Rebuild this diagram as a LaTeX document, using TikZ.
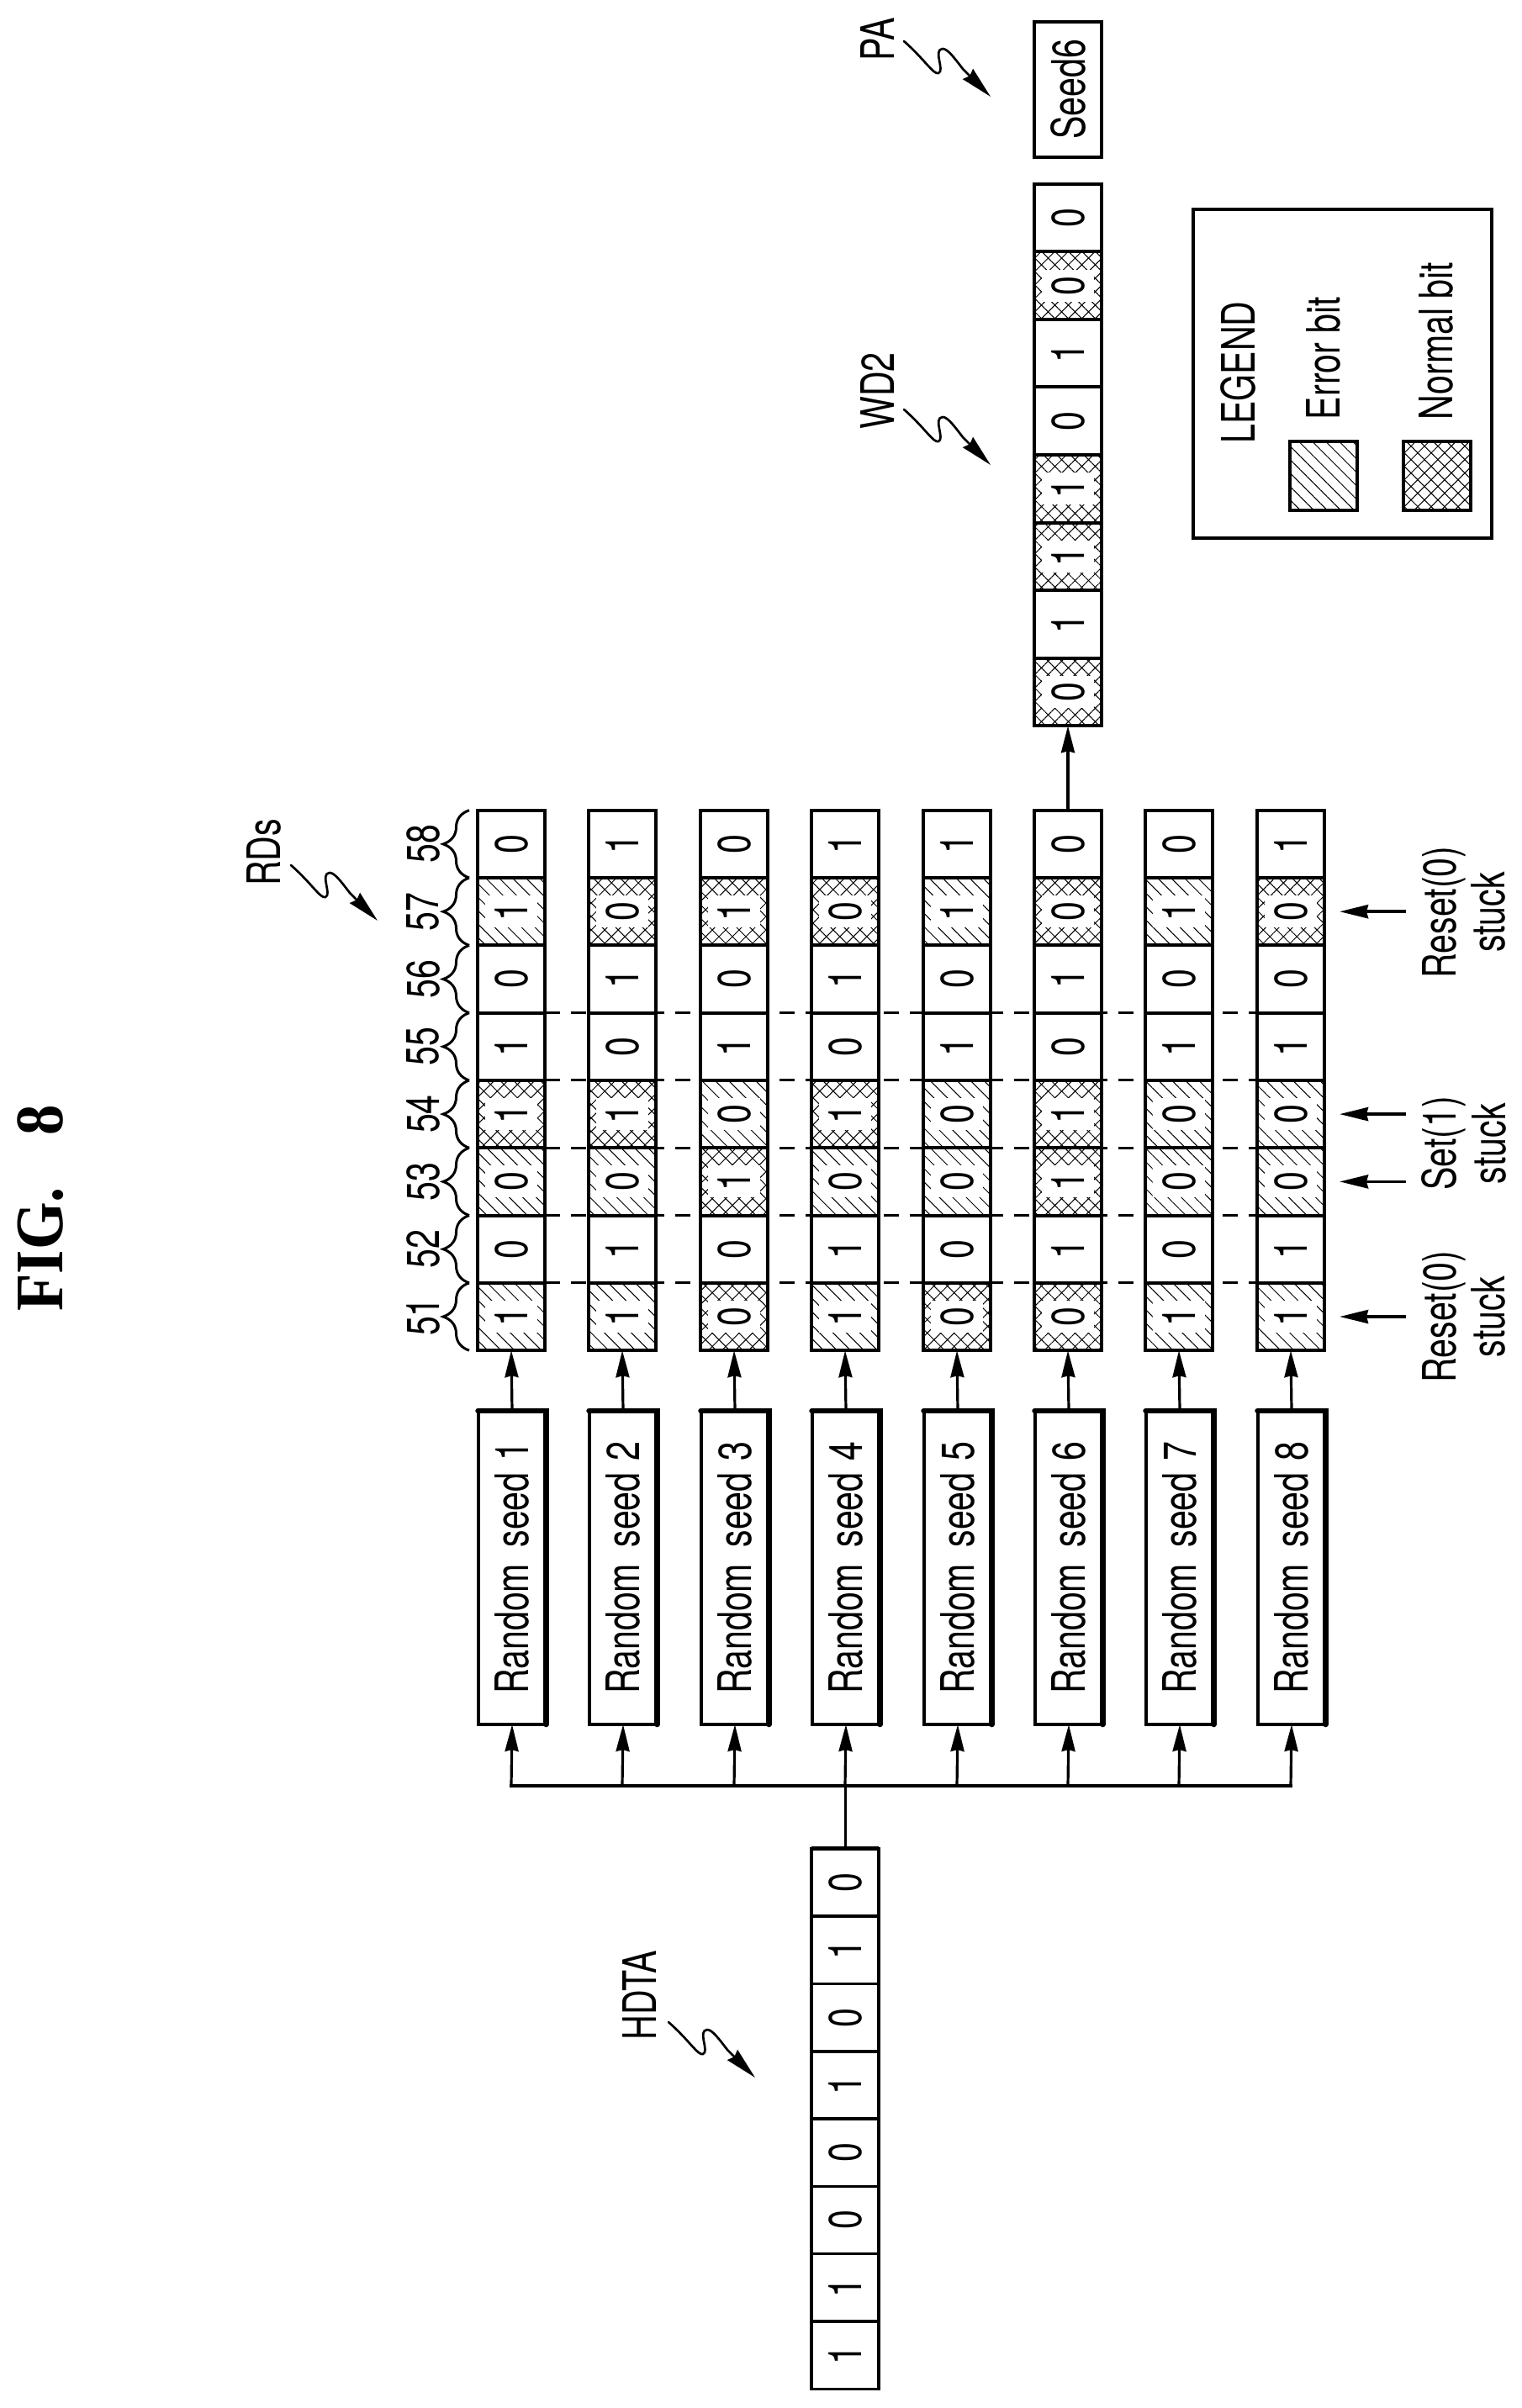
\documentclass[tikz,border=0pt]{standalone}
\usepackage{fontspec}
\setmainfont[FakeStretch=0.75]{TeX Gyre Heros}
\newfontfamily\figfont[FakeStretch=0.9]{Liberation Serif}
\usetikzlibrary{arrows.meta,patterns.meta,decorations.pathreplacing}

\tikzset{
  every node/.style={font=\fontsize{15.6}{16.5}\selectfont,inner sep=0pt,outer sep=0pt},
  >={Stealth[length=.32cm,width=.16cm,inset=.02cm]},
  txt/.style={rotate=90,align=center},
  plainbit/.style={rotate=90,draw,line width=.04cm,minimum width=.803cm,minimum height=.8cm},
  errfill/.style={pattern={Lines[angle=-45,distance=.113cm,line width=.01cm]}},
  norfill/.style={pattern={Hatch[angle=45,distance=.113cm,line width=.01cm]}},
  halo/.style={path picture={\fill[white] ([shift={(-.19cm,-.31cm)}]path picture bounding box.center) rectangle ([shift={(.19cm,.31cm)}]path picture bounding box.center);}},
  errbit/.style={plainbit,errfill,halo},
  norbit/.style={plainbit,norfill,halo},
  seedbox/.style={rotate=90,draw,line width=.04cm,minimum width=3.73cm,minimum height=.81cm},
  heavy/.style={line width=.065cm,line cap=round},
  flow/.style={->,line width=.032cm},
  stuckarrow/.style={->,line width=.037cm,>={Stealth[length=.34cm,width=.16cm,inset=.02cm]}},
  numbrace/.style={line width=.03cm,decorate,decoration={brace,amplitude=.31cm}},
  squig/.style={->,line width=.027cm,line cap=round,>={Stealth[length=.38cm,width=.17cm,inset=.03cm]}},
}

% one column of the bit table, 51 at the bottom
\newcommand{\bitcol}[3]{%
  \foreach \bit/\kind [count=\k] in {#3} {
    \node[\kind] (c#1-\k) at (#2,{15.66-.803*(\k-1)}) {\bit};
  }
}
\newcommand{\squiggle}[1]{%
  \draw[squig,shift={(#1)}] (0,0) .. controls (.25,.22) and (.35,.4) .. (.41,.38)
    .. controls (.49,.35) and (.34,.1) .. (.46,.09)
    .. controls (.52,.09) and (.6,.2) .. (.7,.33) -- (1.03,.66);
}

\begin{document}
\begin{tikzpicture}[y=-1cm]
\useasboundingbox (0,0) rectangle (18.09,28.64);

% Title
\node[rotate=90] (fig) at (.485,14.37) {\figfont\fontsize{23}{24}\selectfont\bfseries FIG.\hspace{17.5pt}8};

% Draw bit table
\bitcol{1}{6.08}{1/errbit,0/plainbit,0/errbit,1/norbit,1/plainbit,0/plainbit,1/errbit,0/plainbit}
\bitcol{2}{7.40}{1/errbit,1/plainbit,0/errbit,1/norbit,0/plainbit,1/plainbit,0/norbit,1/plainbit}
\bitcol{3}{8.73}{0/norbit,0/plainbit,1/norbit,0/errbit,1/plainbit,0/plainbit,1/norbit,0/plainbit}
\bitcol{4}{10.05}{1/errbit,1/plainbit,0/errbit,1/norbit,0/plainbit,1/plainbit,0/norbit,1/plainbit}
\bitcol{5}{11.38}{0/norbit,0/plainbit,0/errbit,0/errbit,1/plainbit,0/plainbit,1/errbit,1/plainbit}
\bitcol{6}{12.70}{0/norbit,1/plainbit,1/norbit,1/norbit,0/plainbit,1/plainbit,0/norbit,0/plainbit}
\bitcol{7}{14.02}{1/errbit,0/plainbit,0/errbit,0/errbit,1/plainbit,0/plainbit,1/errbit,0/plainbit}
\bitcol{8}{15.35}{1/errbit,1/plainbit,0/errbit,0/errbit,1/plainbit,0/plainbit,0/norbit,1/plainbit}

% Draw dashed lines
\foreach \k in {1,...,5} {
  \draw[line width=.03cm,dash pattern=on .18cm off .13cm] (c1-\k.south east) -- (c8-\k.north east);
}

% Draw braces and their numbers
\foreach \k [evaluate=\k as \num using int(50+\k)] in {1,...,8} {
  \draw[numbrace] ([xshift=-.1cm]c1-\k.north west) -- ([xshift=-.1cm]c1-\k.north east);
  \node[txt] (num\k) at (5.03,{15.66-.803*(\k-1)}) {\num};
}

% Draw seed boxes
\foreach \r/\x in {1/6.09,2/7.41,3/8.74,4/10.06,5/11.39,6/12.71,7/14.03,8/15.36} {
  \node[seedbox] (seed\r) at (\x,18.645) {Random\hspace{5.5pt}seed\hspace{4pt}\r};
  \draw[heavy] (seed\r.north east) -- (seed\r.south east) -- (seed\r.south west);
  \draw[flow] (seed\r.east) -- (c\r-1.west);
}

% Draw input word
\foreach \k/\bit in {1/0,2/1,3/0,4/1,5/0,6/0,7/1,8/1} {
  \node[plainbit,line width=.035cm] (hd\k) at (10.05,{22.39+.803*(\k-1)}) {\bit};
}
\draw[line width=.05cm] (hd1.north east) -- (hd1.south east);

% Draw bus
\coordinate (busl) at (6.08,21.24);
\coordinate (busr) at (15.35,21.24);
\draw[line width=.03cm] (hd1.east) -- (hd1.east |- busl);
\foreach \r in {1,...,8} {
  \draw[flow] (c\r-1 |- busl) -- (seed\r.west);
}
\draw[line width=.045cm,line cap=rect] (busl) -- (busr);

% Draw output word
\foreach \k/\kind/\bit in {1/norbit/0,2/plainbit/1,3/norbit/1,4/norbit/1,5/plainbit/0,6/plainbit/1,7/norbit/0,8/plainbit/0} {
  \node[\kind,minimum width=.806cm] (wd\k) at (12.70,{8.23-.8056*(\k-1)}) {\bit};
}
\draw[flow] (c6-8.east) -- (wd1.west);
\node[plainbit,minimum width=1.61cm] (pa) at (12.70,1.065) {Seed6};

% Draw legend
\node[draw,line width=.04cm,minimum width=3.55cm,minimum height=3.91cm] (legend) at (15.965,4.445) {};
\node[txt] (legendtitle) at (14.72,4.43) {LEGEND};
\node[txt,anchor=west] (errtext) at (15.74,4.99) {Error bit};
\node[txt,anchor=west] (nortext) at (17.08,4.99) {Normal bit};
\node[draw,errfill,line width=.045cm,minimum width=.8cm,minimum height=.82cm] (errkey) at (15.74,5.66) {};
\node[draw,norfill,line width=.045cm,minimum width=.8cm,minimum height=.82cm] (norkey) at (17.09,5.66) {};

% Draw stuck arrows
\foreach \k in {1,3,4,7} {
  \coordinate (tail\k) at ([xshift=.97cm]c8-\k.south);
  \coordinate (tip\k) at ([xshift=.18cm]c8-\k.south);
  \draw[stuckarrow] (tail\k) -- (tip\k);
}
\node[txt] (stuck1) at (17.41,15.66) {Reset(0)\\[.2pt]stuck};
\node[txt] (stuck2) at (17.41,13.6) {Set(1)\\[.2pt]stuck};
\node[txt] (stuck3) at (17.41,10.85) {Reset(0)\\[.2pt]stuck};

% Add reference labels
\node[txt] (rds) at (3.14,10.14) {RDs};
\coordinate (rdsstart) at (3.46,10.29);
\squiggle{rdsstart}
\node[txt] (hdta) at (7.61,23.73) {HDTA};
\coordinate (hdtastart) at (7.95,24.05);
\squiggle{hdtastart}
\node[txt] (wdlabel) at (10.43,4.65) {WD2};
\coordinate (wdstart) at (10.75,4.87);
\squiggle{wdstart}
\node[txt] (palabel) at (10.43,.47) {PA};
\coordinate (pastart) at (10.75,.49);
\squiggle{pastart}

\end{tikzpicture}
\end{document}
